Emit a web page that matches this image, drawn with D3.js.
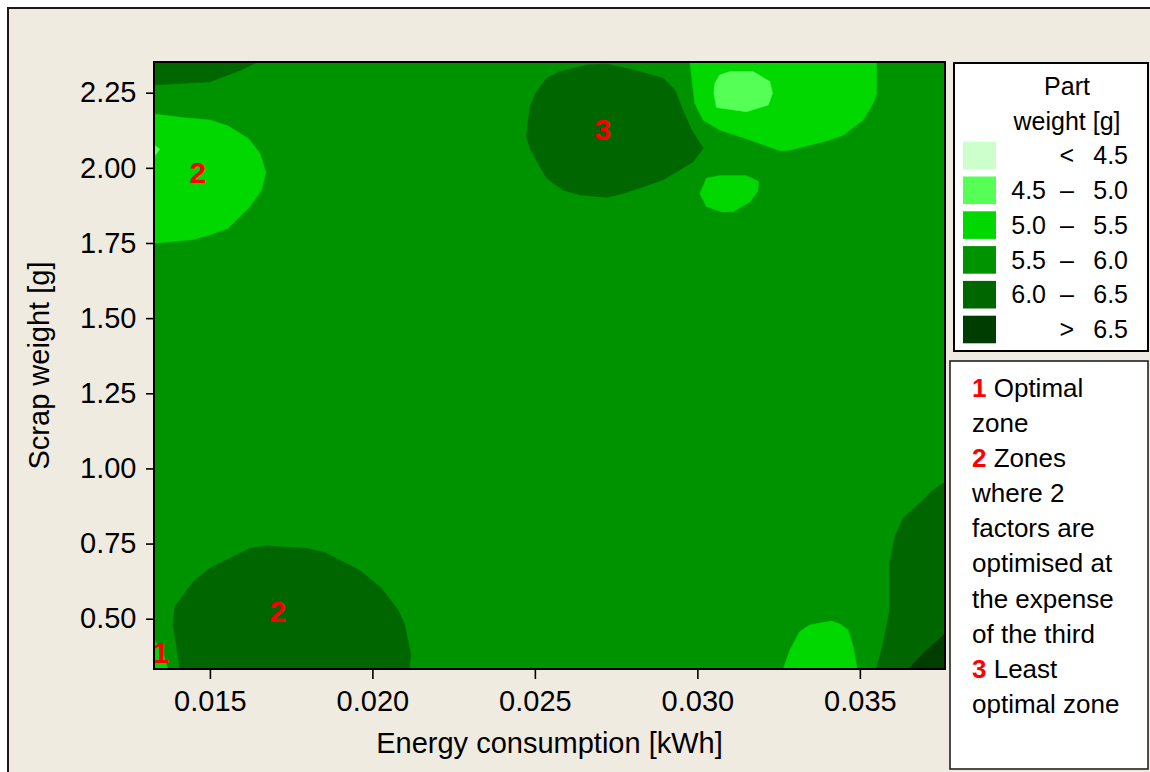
<!DOCTYPE html>
<html>
<head>
<meta charset="utf-8">
<script src="https://cdn.jsdelivr.net/npm/d3@7/dist/d3.min.js"></script>
<style>
  body { margin: 0; background: #ffffff; }
  svg text { font-family: "Liberation Sans", Arial, sans-serif; }
</style>
</head>
<body>
<div id="chart"></div>
<script>
// axis values
const xDomain = [0.01328, 0.03762];
const yDomain = [0.3327, 2.3521];
const xTicks = [0.015, 0.020, 0.025, 0.030, 0.035];
const yTicks = [0.50, 0.75, 1.00, 1.25, 1.50, 1.75, 2.00, 2.25];

// legend levels (lightest to darkest)
const levelNames = [["", "<", "4.5"], ["4.5", "–", "5.0"], ["5.0", "–", "5.5"],
                    ["5.5", "–", "6.0"], ["6.0", "–", "6.5"], ["", ">", "6.5"]];
const levelColors = ["#ccffcc", "#55ff55", "#00d800", "#009300", "#006600", "#003d00"];

// contour bands, outlines as [energy kWh, scrap g]
const topLeftDark = [[0.01328, 2.3521], [0.01645, 2.3521], [0.01598, 2.326], [0.01500, 2.286], [0.01328, 2.276]];
const leftBand = [[0.01328, 2.179], [0.01418, 2.167], [0.01500, 2.159], [0.01556, 2.139], [0.01618, 2.098],
                  [0.01654, 2.048], [0.01672, 1.986], [0.01659, 1.926], [0.01623, 1.871], [0.01556, 1.799],
                  [0.01500, 1.777], [0.01449, 1.762], [0.01328, 1.749]];
const leftSpot = [[0.01328, 2.076], [0.01346, 2.062], [0.01332, 2.043], [0.01328, 2.039]];
const zone3 = [[0.02485, 2.203], [0.02505, 2.253], [0.02536, 2.298], [0.02577, 2.320], [0.02659, 2.342],
               [0.02721, 2.345], [0.02802, 2.326], [0.02895, 2.298], [0.02931, 2.259], [0.02951, 2.203],
               [0.02982, 2.126], [0.03018, 2.065], [0.02987, 2.020], [0.02895, 1.960], [0.02833, 1.937],
               [0.02772, 1.915], [0.02721, 1.902], [0.02638, 1.910], [0.02587, 1.926], [0.02536, 1.965],
               [0.02510, 2.015], [0.02485, 2.065], [0.02474, 2.104]];
const topRightBand = [[0.02977, 2.3521], [0.02992, 2.215], [0.03018, 2.159], [0.03069, 2.126], [0.03162, 2.093],
                      [0.03254, 2.057], [0.03285, 2.059], [0.03408, 2.093], [0.03449, 2.109], [0.03510, 2.159],
                      [0.03541, 2.215], [0.03551, 2.248], [0.03551, 2.3521]];
const topRightPatch = [[0.03054, 2.281], [0.03069, 2.309], [0.03100, 2.320], [0.03172, 2.320], [0.03223, 2.287],
                       [0.03231, 2.248], [0.03218, 2.209], [0.03151, 2.187], [0.03059, 2.201], [0.03051, 2.248]];
const smallBlob = [[0.03008, 1.915], [0.03028, 1.965], [0.03069, 1.974], [0.03151, 1.974], [0.03189, 1.954],
                   [0.03185, 1.921], [0.03162, 1.887], [0.03110, 1.854], [0.03075, 1.854], [0.03028, 1.871]];
const zone2Bottom = [[0.01408, 0.3327], [0.01387, 0.479], [0.01392, 0.540], [0.01449, 0.623], [0.01500, 0.668],
                     [0.01623, 0.734], [0.01674, 0.742], [0.01798, 0.734], [0.01854, 0.720], [0.01962, 0.660],
                     [0.02028, 0.601], [0.02079, 0.529], [0.02100, 0.479], [0.02118, 0.379], [0.02113, 0.3327]];
const zone1Corner = [[0.01328, 0.432], [0.01355, 0.386], [0.01371, 0.3327], [0.01328, 0.3327]];
const bottomBlob = [[0.03264, 0.3327], [0.03285, 0.396], [0.03315, 0.457], [0.03346, 0.479], [0.03413, 0.492],
                    [0.03439, 0.482], [0.03464, 0.462], [0.03479, 0.407], [0.03492, 0.3327]];
const rightDark = [[0.03551, 0.3327], [0.03572, 0.418], [0.03592, 0.529], [0.03592, 0.684], [0.03608, 0.773],
                   [0.03633, 0.834], [0.03695, 0.895], [0.03720, 0.923], [0.03762, 0.955], [0.03762, 0.3327]];
const rightDarkest = [[0.03649, 0.3327], [0.03703, 0.393], [0.03762, 0.449], [0.03762, 0.3327]];

// [level index, outline], drawn in this order
const bands = [[4, topLeftDark], [2, leftBand], [1, leftSpot], [4, zone3], [2, topRightBand],
               [1, topRightPatch], [2, smallBlob], [4, zone2Bottom], [2, zone1Corner],
               [2, bottomBlob], [4, rightDark], [5, rightDarkest]];

// zone markers
const zoneLabels = ["2", "3", "2", "1"];
const zoneX = [0.01463, 0.02709, 0.01709, 0.01349];
const zoneY = [1.985, 2.128, 0.526, 0.389];

// note box lines: [red number, text]
const noteLines = [["1", "Optimal"], ["", "zone"], ["2", "Zones"], ["", "where 2"], ["", "factors are"],
                   ["", "optimised at"], ["", "the expense"], ["", "of the third"], ["3", "Least"], ["", "optimal zone"]];

const width = 1150, height = 772;
const plot = {left: 154, top: 62, right: 945, bottom: 669};

const svg = d3.select("#chart").append("svg")
    .attr("width", width)
    .attr("height", height);

// outer frame
svg.append("rect")
    .attr("x", 8).attr("y", 8)
    .attr("width", 1200).attr("height", 800)
    .attr("fill", "#f0ebe1")
    .attr("stroke", "#1a1a1a")
    .attr("stroke-width", 2);

const x = d3.scaleLinear().domain(xDomain).range([plot.left, plot.right]);
const y = d3.scaleLinear().domain(yDomain).range([plot.bottom, plot.top]);

svg.append("clipPath").attr("id", "plot-clip")
  .append("rect")
    .attr("x", plot.left).attr("y", plot.top)
    .attr("width", plot.right - plot.left).attr("height", plot.bottom - plot.top);

const plotGrp = svg.append("g").attr("clip-path", "url(#plot-clip)");

// base band 5.5 - 6.0
plotGrp.append("rect")
    .attr("x", plot.left).attr("y", plot.top)
    .attr("width", plot.right - plot.left).attr("height", plot.bottom - plot.top)
    .attr("fill", levelColors[3]);

const outline = d3.line()
    .x(d => x(d[0]))
    .y(d => y(d[1]))
    .curve(d3.curveLinearClosed);

plotGrp.selectAll("path.band")
    .data(bands)
    .join("path")
    .attr("class", "band")
    .attr("d", d => outline(d[1]))
    .attr("fill", d => levelColors[d[0]])
    .attr("stroke", d => levelColors[d[0]])
    .attr("stroke-width", 0.6);

plotGrp.selectAll("text.zone")
    .data(zoneLabels)
    .join("text")
    .attr("class", "zone")
    .attr("x", (d, i) => x(zoneX[i]))
    .attr("y", (d, i) => y(zoneY[i]))
    .attr("dy", "0.36em")
    .attr("text-anchor", "middle")
    .attr("font-size", 30)
    .attr("font-weight", "bold")
    .attr("fill", "#ff0000")
    .text(d => d);

// plot border
svg.append("rect")
    .attr("x", plot.left).attr("y", plot.top)
    .attr("width", plot.right - plot.left).attr("height", plot.bottom - plot.top)
    .attr("fill", "none")
    .attr("stroke", "#000")
    .attr("stroke-width", 2);

// axes
const xAxis = svg.append("g")
    .attr("transform", `translate(0, ${plot.bottom})`)
    .call(d3.axisBottom(x).tickValues(xTicks).tickFormat(d3.format(".3f")).tickSize(10).tickPadding(11));
const yAxis = svg.append("g")
    .attr("transform", `translate(${plot.left}, 0)`)
    .call(d3.axisLeft(y).tickValues(yTicks).tickFormat(d3.format(".2f")).tickSize(8).tickPadding(9.5));

[xAxis, yAxis].forEach(g => {
    g.select(".domain").remove();
    g.selectAll(".tick line").attr("stroke", "#000").attr("stroke-width", 1.6);
    g.selectAll(".tick text")
        .attr("font-family", "'Liberation Sans', Arial, sans-serif")
        .attr("font-size", 29)
        .attr("fill", "#000");
});

svg.append("text")
    .attr("x", (plot.left + plot.right) / 2)
    .attr("y", 753)
    .attr("text-anchor", "middle")
    .attr("font-size", 29)
    .text("Energy consumption [kWh]");

svg.append("text")
    .attr("transform", `translate(49, ${(plot.top + plot.bottom) / 2}) rotate(-90)`)
    .attr("text-anchor", "middle")
    .attr("font-size", 29)
    .text("Scrap weight [g]");

// colour legend
const legend = svg.append("g");
legend.append("rect")
    .attr("x", 954).attr("y", 63)
    .attr("width", 194).attr("height", 288)
    .attr("fill", "#fff")
    .attr("stroke", "#000")
    .attr("stroke-width", 2);

legend.selectAll("text.title")
    .data(["Part", "weight [g]"])
    .join("text")
    .attr("class", "title")
    .attr("x", 1067)
    .attr("y", (d, i) => 95 + i * 35)
    .attr("text-anchor", "middle")
    .attr("font-size", 25)
    .text(d => d);

const rows = legend.selectAll("g.row")
    .data(levelNames)
    .join("g")
    .attr("class", "row")
    .attr("transform", (d, i) => `translate(0, ${141.7 + i * 34.8})`);

rows.append("rect")
    .attr("x", 963).attr("y", 0)
    .attr("width", 33).attr("height", 27.6)
    .attr("fill", (d, i) => levelColors[i]);

rows.append("text")
    .attr("x", 1046).attr("y", 22.5)
    .attr("text-anchor", "end")
    .attr("font-size", 25)
    .text(d => d[0]);
rows.append("text")
    .attr("x", 1074).attr("y", 22.5)
    .attr("text-anchor", "end")
    .attr("font-size", 25)
    .text(d => d[1]);
rows.append("text")
    .attr("x", 1128).attr("y", 22.5)
    .attr("text-anchor", "end")
    .attr("font-size", 25)
    .text(d => d[2]);

// zone notes
const notes = svg.append("g");
notes.append("rect")
    .attr("x", 950).attr("y", 361)
    .attr("width", 198).attr("height", 408)
    .attr("fill", "#fff")
    .attr("stroke", "#222")
    .attr("stroke-width", 1.6);

const noteText = notes.selectAll("text")
    .data(noteLines)
    .join("text")
    .attr("x", 972)
    .attr("y", (d, i) => 396.7 + i * 35.15)
    .attr("font-size", 26);

noteText.each(function(d) {
    const t = d3.select(this);
    if (d[0]) {
        t.append("tspan").attr("fill", "#ff0000").attr("font-weight", "bold").text(d[0]);
        t.append("tspan").text(" " + d[1]);
    } else {
        t.append("tspan").text(d[1]);
    }
});
</script>
</body>
</html>
